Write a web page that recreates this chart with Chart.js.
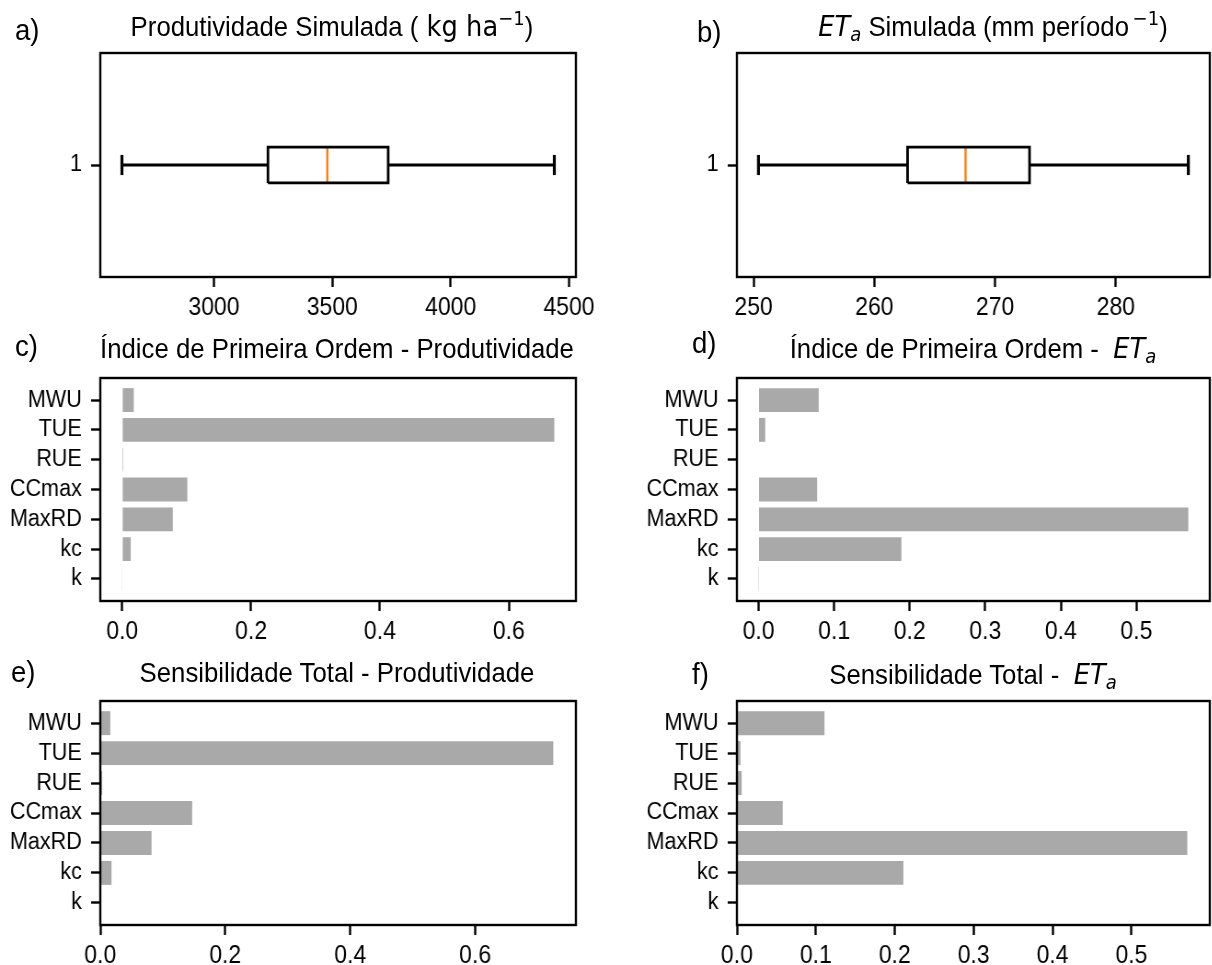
<!DOCTYPE html>
<html><head><meta charset="utf-8">
<script src="https://cdn.jsdelivr.net/npm/chart.js@4.4.0/dist/chart.umd.min.js"></script>
<style>
html,body{margin:0;padding:0;background:#fff;overflow:hidden;width:1212px;height:965px;}
#fig{position:relative;width:1317px;height:965px;overflow:hidden;font-family:"Liberation Sans",Arial,sans-serif;color:#000;transform:scaleX(0.92);transform-origin:0 0;}
canvas{position:absolute;}
.t{position:absolute;white-space:nowrap;font-size:28px;line-height:1;transform:translate(-50%,-50%);}
.lab{position:absolute;white-space:nowrap;font-size:30px;line-height:1;transform:translateY(-50%);}
.m{font-family:"DejaVu Sans",sans-serif;}
sup{font-size:0.7em;position:relative;top:-0.55em;vertical-align:baseline;}
sub{font-size:0.7em;position:relative;top:0.28em;vertical-align:baseline;}
</style></head>
<body><div id="fig"></div>
<script>
// ---------------- data ----------------
const params = ['k', 'kc', 'MaxRD', 'CCmax', 'RUE', 'TUE', 'MWU'];   // bottom -> top
const firstOrderProd = [-0.0005, 0.0132, 0.0785, 0.101, 0.0015, 0.6706, 0.0179];
const firstOrderEta  = [-0.0002, 0.189, 0.5687, 0.0775, 0.0, 0.0088, 0.0795];
const totalProd      = [0.0, 0.018, 0.082, 0.147, 0.003, 0.725, 0.016];
const totalEta       = [0.0, 0.211, 0.5708, 0.058, 0.006, 0.0045, 0.111];
// boxplot statistics: lower whisker, Q1, median, Q3, upper whisker
const prodStats = [2611, 3228, 3479, 3736, 4438];
const etaStats  = [250.4, 262.75, 267.55, 272.85, 286.0];
// tick labels
const prodTicks = [3000, 3500, 4000, 4500];
const etaTicks  = [250, 260, 270, 280];
const idxTicksProd = [0, 0.2, 0.4, 0.6];
const idxTicksEta  = [0, 0.1, 0.2, 0.3, 0.4, 0.5];
const boxTick = [1];

// ---------------- layout ----------------
const S = 0.92;                       // horizontal condensation of the whole figure
const FIG_W = Math.round(1212 / S);
const fig = document.getElementById('fig');
Chart.defaults.font.family = '"Liberation Sans", Arial, sans-serif';
Chart.defaults.color = '#000';
const XTICK_FONT = {size: 25};
const YTICK_FONT = {size: 23.5};
const BAR_COLOR = '#a9a9a9';
const BOX_W = 0.16, CAP_W = 0.09;

const frame = {
  id: 'frame',
  afterDatasetsDraw(chart) {
    const {ctx, chartArea: a} = chart;
    ctx.save();
    ctx.strokeStyle = '#000'; ctx.lineWidth = 2.4;
    ctx.strokeRect(a.left, a.top, a.right - a.left, a.bottom - a.top);
    ctx.restore();
  }
};

function placeCanvas(box) {
  const YW = 120, PT = 32, XH = 60;
  const l = Math.round(box.l / S), r = Math.round(box.r / S);
  const PR = box.r > 1000 ? FIG_W - r : 40;
  const W = r - l + YW + PR, H = box.b - box.t + PT + XH;
  const c = document.createElement('canvas');
  c.width = W; c.height = H;
  c.style.left = (l - YW) + 'px'; c.style.top = (box.t - PT) + 'px';
  c.style.width = W + 'px'; c.style.height = H + 'px';
  fig.appendChild(c);
  return {c, YW, PT, PR, XH};
}

function gridOpts() {
  return {display: true, offset: false, drawOnChartArea: false, drawTicks: true, tickLength: 10, tickWidth: 2.4, tickColor: '#000'};
}

function xScale(min, max, ticks, fmt, XH) {
  return {
    type: 'linear', min, max, offset: false,
    afterBuildTicks: s => { s.ticks = ticks.map(v => ({value: v})); },
    afterFit: s => { s.height = XH; },
    ticks: {callback: fmt, font: XTICK_FONT, color: '#000', padding: 6, maxRotation: 0, autoSkip: false},
    grid: gridOpts(), border: {display: false}
  };
}

function yScale(min, max, ticks, fmt, YW) {
  return {
    type: 'linear', min, max, offset: false,
    afterBuildTicks: s => { s.ticks = ticks.map(v => ({value: v})); },
    afterFit: s => { s.width = YW; },
    ticks: {callback: fmt, font: YTICK_FONT, color: '#000', padding: 10, autoSkip: false},
    grid: gridOpts(), border: {display: false}
  };
}

function barPanel(box, values, ticks, fmt) {
  const p = placeCanvas(box);
  const n = params.length;
  const span = (n - 1) + 0.8;
  const ymin = -0.4 - 0.05 * span, ymax = (n - 1) + 0.4 + 0.05 * span;
  const dmin = Math.min(0, ...values), dmax = Math.max(0, ...values);
  const xr = dmax - dmin;
  const xmin = dmin < 0 ? dmin - 0.05 * xr : 0;
  const xmax = dmax + 0.05 * xr;
  new Chart(p.c, {
    type: 'bar',
    data: {datasets: [{
      data: params.map((_, i) => ({x: values[i], y: i})),
      backgroundColor: BAR_COLOR, borderWidth: 0,
      barPercentage: 0.8, categoryPercentage: 1.0
    }]},
    options: {
      indexAxis: 'y', responsive: false, animation: false, devicePixelRatio: 1,
      layout: {padding: {left: 0, top: p.PT, right: p.PR, bottom: 0}},
      plugins: {legend: {display: false}, tooltip: {enabled: false}},
      scales: {
        x: xScale(xmin, xmax, ticks, fmt, p.XH),
        y: yScale(ymin, ymax, params.map((_, i) => i), v => params[v], p.YW)
      }
    },
    plugins: [frame]
  });
}

function boxPanel(box, st, ticks) {
  const p = placeCanvas(box);
  const [lo, q1, med, q3, hi] = st;
  const r = hi - lo;
  const line = (pts, color, w) => ({
    data: pts.map(([x, y]) => ({x, y})), showLine: true, pointRadius: 0,
    borderColor: color, borderWidth: w, borderJoinStyle: 'miter', borderCapStyle: 'butt', fill: false, tension: 0
  });
  const h = BOX_W / 2, cw = CAP_W / 2;
  new Chart(p.c, {
    type: 'scatter',
    data: {datasets: [
      line([[q1, 1 - h], [q3, 1 - h], [q3, 1 + h], [q1, 1 + h], [q1, 1 - h]], '#000', 2.8),
      line([[lo, 1], [q1, 1]], '#000', 2.8),
      line([[q3, 1], [hi, 1]], '#000', 2.8),
      line([[lo, 1 - cw], [lo, 1 + cw]], '#000', 3.2),
      line([[hi, 1 - cw], [hi, 1 + cw]], '#000', 3.2),
      line([[med, 1 - h], [med, 1 + h]], '#ff7f0e', 2.4)
    ]},
    options: {
      responsive: false, animation: false, devicePixelRatio: 1,
      layout: {padding: {left: 0, top: p.PT, right: p.PR, bottom: 0}},
      plugins: {legend: {display: false}, tooltip: {enabled: false}},
      scales: {
        x: xScale(lo - 0.05 * r, hi + 0.05 * r, ticks, v => String(v), p.XH),
        y: yScale(0.5, 1.5, boxTick, v => String(v), p.YW)
      }
    },
    plugins: [frame]
  });
}

const L = {l: 100, r: 576}, R = {l: 737, r: 1210};
const row1 = {t: 53, b: 277}, row2 = {t: 378, b: 601}, row3 = {t: 701, b: 925};
const f1 = v => v.toFixed(1);

boxPanel({...L, ...row1}, prodStats, prodTicks);
boxPanel({...R, ...row1}, etaStats, etaTicks);
barPanel({...L, ...row2}, firstOrderProd, idxTicksProd, f1);
barPanel({...R, ...row2}, firstOrderEta, idxTicksEta, f1);
barPanel({...L, ...row3}, totalProd, idxTicksProd, f1);
barPanel({...R, ...row3}, totalEta, idxTicksEta, f1);

// ---------------- titles ----------------
const ET = '<span class="m"><i>ET</i><sub><i>a</i></sub></span>';
const titles = [
  [332, 27, 'Produtividade Simulada (<span class="m">&nbsp;kg ha<sup>\u22121</sup></span>)'],
  [993, 27, ET + ' Simulada (mm per\u00edodo<span class="m"><sup>\u2009\u22121</sup></span>)'],
  [337, 349, '\u00cdndice de Primeira Ordem - Produtividade'],
  [973, 349, '\u00cdndice de Primeira Ordem -&nbsp; ' + ET],
  [337, 673, 'Sensibilidade Total - Produtividade'],
  [973, 675, 'Sensibilidade Total -&nbsp; ' + ET]
];
titles.forEach(([x, y, html]) => {
  const d = document.createElement('div');
  d.className = 't'; d.style.left = (x / S) + 'px'; d.style.top = y + 'px';
  d.innerHTML = html; fig.appendChild(d);
});
const letters = [[15, 30, 'a)'], [697, 32, 'b)'], [15, 346, 'c)'], [692, 343, 'd)'], [11, 672, 'e)'], [692, 674, 'f)']];
letters.forEach(([x, y, s]) => {
  const d = document.createElement('div');
  d.className = 'lab'; d.style.left = (x / S) + 'px'; d.style.top = y + 'px';
  d.textContent = s; fig.appendChild(d);
});
</script>
</body></html>
